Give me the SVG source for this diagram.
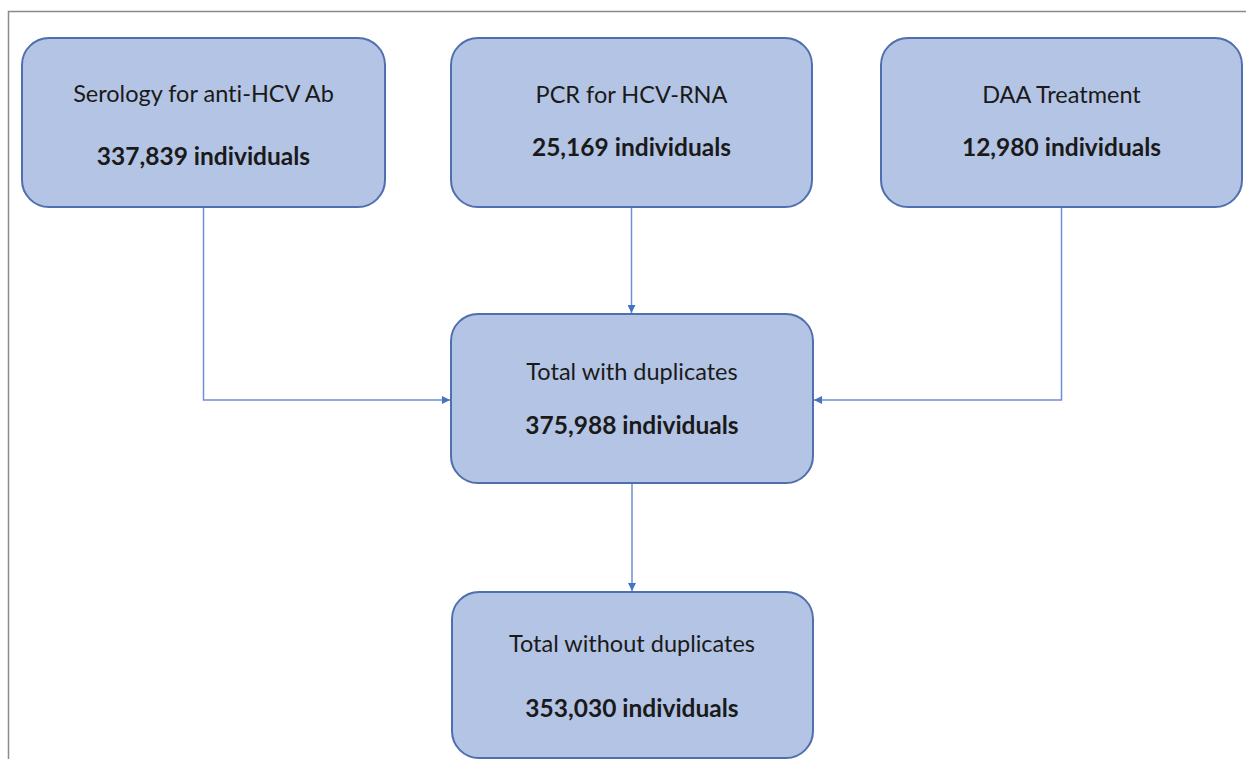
<svg xmlns="http://www.w3.org/2000/svg" width="1246" height="759" viewBox="0 0 1246 759">
<style>
.box{fill:#b4c4e4;stroke:#4f6fae;stroke-width:2}
.t{font-family:Lato,"Open Sans","Liberation Sans",sans-serif;font-size:23.5px;fill:#1a1a1a;text-anchor:middle;font-variant-ligatures:none}
.b{font-weight:bold;font-size:24.5px}
.c{fill:none;stroke:#6f8fd4;stroke-width:1.5}
</style>
<defs>
<marker id="ah" viewBox="0 0 10 10" refX="10" refY="5" markerWidth="8" markerHeight="8" markerUnits="userSpaceOnUse" orient="auto">
<path d="M0,0 L10,5 L0,10 z" fill="#4472c4"/>
</marker>
</defs>
<rect width="1246" height="759" fill="#ffffff"/>
<path d="M8.5,759 V11.5 H1246" fill="none" stroke="#8a8a8a" stroke-width="1.5"/>
<g id="connectors">
<path class="c" d="M203.5,207 V400 H450" marker-end="url(#ah)"/>
<path class="c" d="M631.5,207 V313" marker-end="url(#ah)"/>
<path class="c" d="M1061.5,207 V400 H814" marker-end="url(#ah)"/>
<path class="c" d="M632,483 V591" marker-end="url(#ah)"/>
</g>
<g id="serology">
<rect class="box" x="22" y="38" width="363" height="169" rx="27"/>
<text class="t" x="203.5" y="102">Serology for anti-HCV Ab</text>
<text class="t b" x="203.5" y="165">337,839 individuals</text>
</g>
<g id="pcr">
<rect class="box" x="451" y="38" width="361" height="169" rx="27"/>
<text class="t" x="631.5" y="103">PCR for HCV-RNA</text>
<text class="t b" x="631.5" y="156">25,169 individuals</text>
</g>
<g id="daa">
<rect class="box" x="881" y="38" width="361" height="169" rx="27"/>
<text class="t" x="1061.5" y="103">DAA Treatment</text>
<text class="t b" x="1061.5" y="156">12,980 individuals</text>
</g>
<g id="total-with">
<rect class="box" x="451" y="314" width="362" height="169" rx="27"/>
<text class="t" x="632" y="380">Total with duplicates</text>
<text class="t b" x="632" y="434">375,988 individuals</text>
</g>
<g id="total-without">
<rect class="box" x="452" y="592" width="361" height="166" rx="27"/>
<text class="t" x="632" y="652">Total without duplicates</text>
<text class="t b" x="632" y="717">353,030 individuals</text>
</g>
</svg>
